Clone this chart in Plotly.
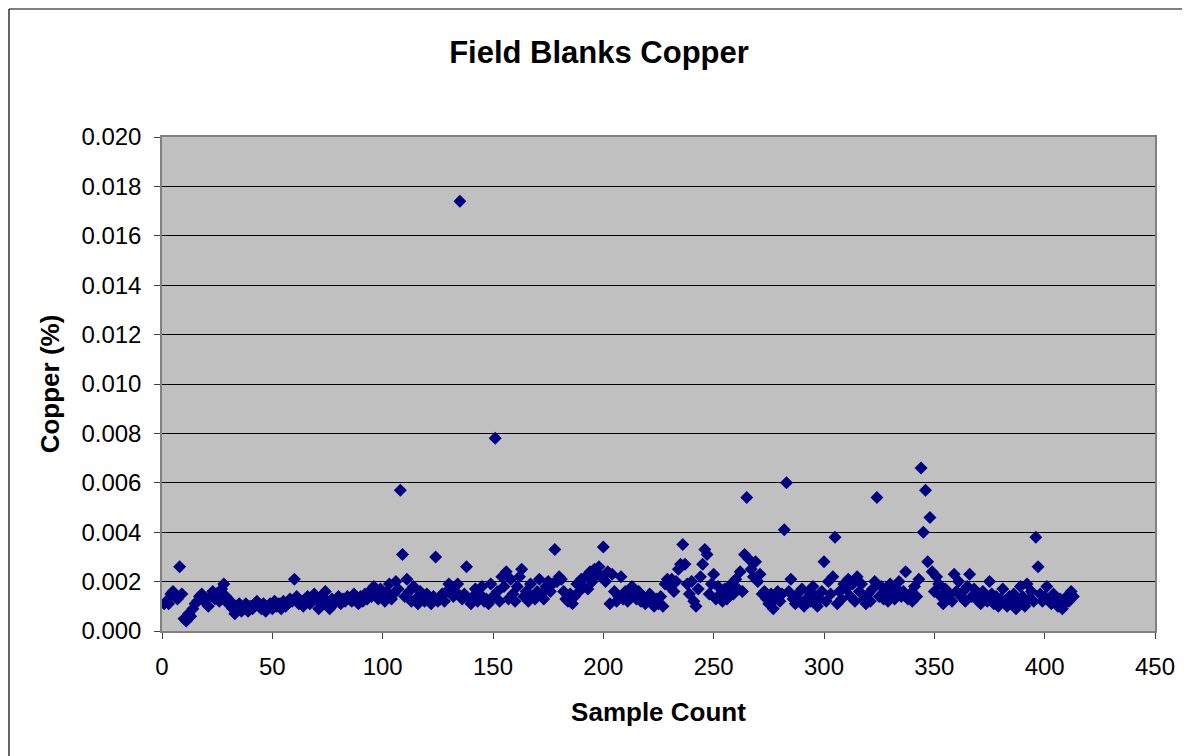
import plotly.graph_objects as go

copper = [
    0.0011, 0.0012, 0.0011, 0.0015, 0.0016, 0.0014, 0.0013, 0.0026, 0.0015, 0.0005,
    0.0004, 0.0007, 0.0006, 0.0009, 0.0011, 0.0012, 0.0014, 0.0015, 0.0012, 0.0013,
    0.0010, 0.0014, 0.0016, 0.0013, 0.0015, 0.0012, 0.0017, 0.0019, 0.0014, 0.0011,
    0.0012, 0.0009, 0.0007, 0.0010, 0.0011, 0.0008, 0.0009, 0.0011, 0.0008, 0.0010,
    0.0009, 0.0011, 0.0012, 0.0010, 0.0009, 0.0011, 0.0008, 0.0010, 0.0011, 0.0009,
    0.0012, 0.0010, 0.0011, 0.0009, 0.0012, 0.0010, 0.0011, 0.0013, 0.0012, 0.0021,
    0.0014, 0.0011, 0.0012, 0.0010, 0.0013, 0.0014, 0.0011, 0.0012, 0.0015, 0.0013,
    0.0009, 0.0014, 0.0011, 0.0016, 0.0012, 0.0009, 0.0013, 0.0011, 0.0012, 0.0014,
    0.0011, 0.0013, 0.0012, 0.0014, 0.0013, 0.0012, 0.0015, 0.0013, 0.0011, 0.0014,
    0.0012, 0.0015, 0.0013, 0.0016, 0.0014, 0.0018, 0.0015, 0.0013, 0.0017, 0.0014,
    0.0012, 0.0016, 0.0019, 0.0013, 0.0015, 0.0020, 0.0017, 0.0057, 0.0031, 0.0014,
    0.0021, 0.0016, 0.0012, 0.0018, 0.0013, 0.0011, 0.0016, 0.0013, 0.0012, 0.0015,
    0.0013, 0.0011, 0.0014, 0.0030, 0.0012, 0.0013, 0.0015, 0.0012, 0.0016, 0.0019,
    0.0018, 0.0014, 0.0016, 0.0019, 0.0174, 0.0013, 0.0015, 0.0026, 0.0013, 0.0011,
    0.0014, 0.0017, 0.0012, 0.0015, 0.0018, 0.0012, 0.0013, 0.0011, 0.0019, 0.0014,
    0.0078, 0.0016, 0.0012, 0.0022, 0.0018, 0.0024, 0.0013, 0.0021, 0.0015, 0.0012,
    0.0018, 0.0022, 0.0025, 0.0014, 0.0016, 0.0012, 0.0019, 0.0014, 0.0013, 0.0016,
    0.0021, 0.0015, 0.0013, 0.0018, 0.0020, 0.0016, 0.0019, 0.0033, 0.0020, 0.0022,
    0.0021, 0.0016, 0.0013, 0.0012, 0.0015, 0.0011, 0.0014, 0.0019, 0.0016, 0.0021,
    0.0018, 0.0022, 0.0017, 0.0024, 0.0020, 0.0025, 0.0023, 0.0026, 0.0022, 0.0034,
    0.0020, 0.0024, 0.0011, 0.0023, 0.0016, 0.0012, 0.0014, 0.0022, 0.0013, 0.0016,
    0.0012, 0.0014, 0.0018, 0.0015, 0.0013, 0.0016, 0.0012, 0.0014, 0.0011, 0.0013,
    0.0015, 0.0012, 0.0010, 0.0013, 0.0011, 0.0014, 0.0010, 0.0019, 0.0021, 0.0018,
    0.0021, 0.0016, 0.0020, 0.0025, 0.0027, 0.0035, 0.0027, 0.0019, 0.0015, 0.0020,
    0.0012, 0.0010, 0.0017, 0.0022, 0.0027, 0.0033, 0.0031, 0.0015, 0.0019, 0.0023,
    0.0013, 0.0018, 0.0015, 0.0012, 0.0017, 0.0013, 0.0016, 0.0019, 0.0015, 0.0021,
    0.0017, 0.0024, 0.0016, 0.0031, 0.0054, 0.0029, 0.0025, 0.0022, 0.0028, 0.0020,
    0.0023, 0.0015, 0.0016, 0.0013, 0.0011, 0.0015, 0.0009, 0.0013, 0.0016, 0.0012,
    0.0015, 0.0041, 0.0060, 0.0016, 0.0021, 0.0013, 0.0011, 0.0015, 0.0012, 0.0017,
    0.0010, 0.0013, 0.0016, 0.0012, 0.0018, 0.0014, 0.0010, 0.0013, 0.0016, 0.0028,
    0.0012, 0.0020, 0.0015, 0.0022, 0.0038, 0.0011, 0.0016, 0.0013, 0.0019, 0.0017,
    0.0021, 0.0014, 0.0019, 0.0012, 0.0022, 0.0016, 0.0019, 0.0013, 0.0011, 0.0015,
    0.0012, 0.0017, 0.0020, 0.0054, 0.0014, 0.0018, 0.0013, 0.0016, 0.0012, 0.0019,
    0.0015, 0.0013, 0.0017, 0.0020, 0.0014, 0.0016, 0.0024, 0.0013, 0.0015, 0.0012,
    0.0018, 0.0014, 0.0021, 0.0066, 0.0040, 0.0057, 0.0028, 0.0046, 0.0024, 0.0016,
    0.0022, 0.0019, 0.0014, 0.0011, 0.0017, 0.0013, 0.0015, 0.0012, 0.0023, 0.0016,
    0.0020, 0.0014, 0.0016, 0.0012, 0.0018, 0.0023, 0.0014, 0.0017, 0.0013, 0.0015,
    0.0011, 0.0016, 0.0013, 0.0012, 0.0020, 0.0015, 0.0011, 0.0014, 0.0010, 0.0013,
    0.0017, 0.0012, 0.0010, 0.0014, 0.0011, 0.0015, 0.0009, 0.0012, 0.0018, 0.0014,
    0.0010, 0.0019, 0.0013, 0.0016, 0.0012, 0.0038, 0.0026, 0.0015, 0.0012, 0.0014,
    0.0018, 0.0013, 0.0011, 0.0015, 0.0012, 0.0010, 0.0013, 0.0009, 0.0011, 0.0014,
    0.0012, 0.0016, 0.0014,
]
sample_count = list(range(1, len(copper) + 1))

x_ticks = [0, 50, 100, 150, 200, 250, 300, 350, 400, 450]
y_ticks = [0.000, 0.002, 0.004, 0.006, 0.008, 0.010, 0.012, 0.014, 0.016, 0.018, 0.020]

fig = go.Figure()
fig.add_trace(go.Scatter(
    x=sample_count, y=copper, mode="markers",
    marker=dict(symbol="diamond", size=10, color="#000080", line=dict(width=0)),
    showlegend=False,
))

W, H = 1182, 748
L, R, T, B = 154, 35, 129, 125
PW, PH = W - L - R, H - T - B

font_family = "Liberation Sans, Arial, sans-serif"
fig.update_layout(
    width=W, height=H,
    margin=dict(l=L, r=R, t=T, b=B),
    paper_bgcolor="white",
    plot_bgcolor="#C0C0C0",
    font=dict(family=font_family, size=24, color="black"),
    title=dict(text="<b>Field Blanks Copper</b>", x=0.5, xref="container",
               y=1 - 44 / H, yanchor="middle", font=dict(size=31, color="black")),
    shapes=[
        dict(type="line", xref="paper", yref="paper",
             x0=-(L - 1) / PW, x1=-(L - 1) / PW, y0=-(B + 20) / PH, y1=1 + (T - 1) / PH,
             line=dict(color="black", width=1.2)),
        dict(type="line", xref="paper", yref="paper",
             x0=-(L - 1) / PW, x1=1 + (R + 20) / PW, y0=1 + (T - 1) / PH, y1=1 + (T - 1) / PH,
             line=dict(color="black", width=1.2)),
    ],
)
fig.update_xaxes(
    range=[0, 450], tickvals=x_ticks, ticks="outside", ticklen=6, tickcolor="#404040",
    showline=True, linecolor="#808080", linewidth=1.5, mirror=True, showgrid=False, zeroline=False,
    title=dict(text="<b>Sample Count</b>", font=dict(size=26), standoff=24),
    tickfont=dict(size=24), ticklabelstandoff=7,
)
fig.update_yaxes(
    range=[0, 0.020], tickvals=y_ticks, tickformat=".3f", ticks="outside", ticklen=6,
    tickcolor="#404040", showline=True, linecolor="#808080", linewidth=1.5, mirror=True,
    showgrid=True, gridcolor="black", gridwidth=1, zeroline=False,
    title=dict(text="<b>Copper (%)</b>", font=dict(size=26), standoff=14),
    tickfont=dict(size=24), ticklabelstandoff=8,
)

fig.write_html("out.html")
